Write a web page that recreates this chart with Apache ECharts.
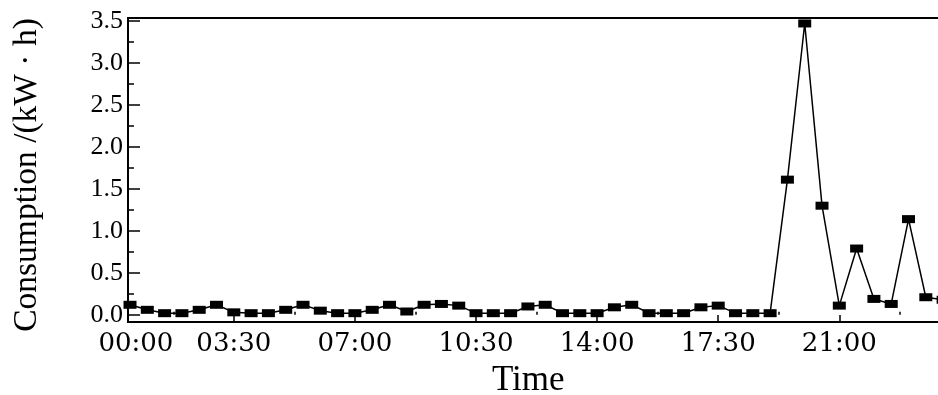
<!DOCTYPE html>
<html>
<head>
<meta charset="utf-8">
<script src="https://cdn.jsdelivr.net/npm/echarts@6/dist/echarts.min.js"></script>
<style>
html,body{margin:0;padding:0;background:#fff;overflow:hidden;width:938px;height:395px;}
#chart{width:960px;height:395px;}
</style>
</head>
<body>
<div id="chart"></div>
<script>
// half-hour time slots (end of each interval)
const timeSlots = ['00:30','01:00','01:30','02:00','02:30','03:00','03:30','04:00','04:30','05:00',
  '05:30','06:00','06:30','07:00','07:30','08:00','08:30','09:00','09:30','10:00',
  '10:30','11:00','11:30','12:00','12:30','13:00','13:30','14:00','14:30','15:00',
  '15:30','16:00','16:30','17:00','17:30','18:00','18:30','19:00','19:30','20:00',
  '20:30','21:00','21:30','22:00','22:30','23:00','23:30','24:00'];
// consumption in kW·h
const consumption = [0.12,0.06,0.02,0.02,0.06,0.12,0.03,0.02,0.02,0.06,
  0.12,0.05,0.02,0.02,0.06,0.12,0.04,0.12,0.13,0.11,
  0.02,0.02,0.02,0.10,0.12,0.02,0.02,0.02,0.09,0.12,
  0.02,0.02,0.02,0.09,0.11,0.02,0.02,0.02,1.61,3.47,
  1.30,0.11,0.79,0.19,0.13,1.14,0.21,0.18];
// x tick labels (hours)
const xTickLabels = ['00:00','03:30','07:00','10:30','14:00','17:30','21:00'];
const xLabelHours = [0.67, 3.5, 7, 10.5, 14, 17.5, 21];
const xMajorTicks = [3.5, 7, 10.5, 14, 17.5, 21];
const xMinorTicks = [1.75, 5.25, 8.75, 12.25, 15.75, 19.25, 22.75];
// y ticks
const yTickValues = [0, 0.5, 1.0, 1.5, 2.0, 2.5, 3.0, 3.5];
const yTickLabels = ['0.0','0.5','1.0','1.5','2.0','2.5','3.0','3.5'];
const yMinorTicks = [0.25, 0.75, 1.25, 1.75, 2.25, 2.75, 3.25];

function toHours(s){ const p = s.split(':'); return +p[0] + (+p[1])/60; }
const seriesData = timeSlots.map((t,i)=>[toHours(t), consumption[i]]);

const X_MIN = 0.442, X_MAX = 24.3, Y_MIN = -0.085, Y_MAX = 3.535;

const chart = echarts.init(document.getElementById('chart'), null, {renderer:'canvas', width:960, height:395});
chart.setOption({
  animation:false,
  backgroundColor:'#fff',
  grid:{left:128, right:6.5, top:18, bottom:73, outerBoundsMode:'none', containLabel:false, show:true, borderColor:'#000', borderWidth:2, backgroundColor:'transparent'},
  xAxis:[{
    type:'value', min:X_MIN, max:X_MAX,
    axisLine:{show:true, onZero:false, lineStyle:{color:'#000', width:2}},
    axisTick:{show:true, inside:true, length:7, customValues:xMajorTicks, lineStyle:{color:'#000', width:1.5}},
    axisLabel:{show:true, customValues:xLabelHours, margin:9, color:'#000',
      fontFamily:'DejaVu Serif', fontSize:26,
      formatter:function(v){ let best=0, d=1e9; xLabelHours.forEach((h,i)=>{ if(Math.abs(h-v)<d){d=Math.abs(h-v);best=i;} }); return xTickLabels[best]; }},
    splitLine:{show:false},
    name:'Time', nameLocation:'middle', nameGap:41,
    nameTextStyle:{fontFamily:'Liberation Serif', fontSize:35, color:'#000', padding:[0,25,0,0]}
  },{
    type:'value', min:X_MIN, max:X_MAX, position:'bottom',
    axisLine:{show:false},
    axisTick:{show:true, inside:true, length:3, customValues:xMinorTicks, lineStyle:{color:'#000', width:1.5}},
    axisLabel:{show:false}, splitLine:{show:false}
  }],
  yAxis:[{
    type:'value', min:Y_MIN, max:Y_MAX,
    axisLine:{show:true, onZero:false, lineStyle:{color:'#000', width:2}},
    axisTick:{show:true, inside:true, length:12, customValues:yTickValues, lineStyle:{color:'#000', width:1.5}},
    axisLabel:{show:true, customValues:yTickValues, margin:5, color:'#000',
      fontFamily:'Liberation Serif', fontSize:26,
      formatter:function(v){ const i = yTickValues.findIndex(t=>Math.abs(t-v)<1e-6); return i>=0 ? yTickLabels[i] : ''; }},
    splitLine:{show:false},
    name:'Consumption /(kW · h)', nameLocation:'middle', nameGap:84, nameRotate:90,
    nameTextStyle:{fontFamily:'Liberation Serif', fontSize:33.5, color:'#000', padding:[0,10,0,0]}
  },{
    type:'value', min:Y_MIN, max:Y_MAX, position:'left',
    axisLine:{show:false},
    axisTick:{show:true, inside:true, length:6, customValues:yMinorTicks, lineStyle:{color:'#000', width:1.5}},
    axisLabel:{show:false}, splitLine:{show:false}
  }],
  series:[{
    type:'line', xAxisIndex:0, yAxisIndex:0,
    data:seriesData,
    symbol:'rect', symbolSize:[13,8], showAllSymbol:true,
    lineStyle:{color:'#000', width:1.5},
    itemStyle:{color:'#000', borderWidth:0}
  }]
});
</script>
</body>
</html>
